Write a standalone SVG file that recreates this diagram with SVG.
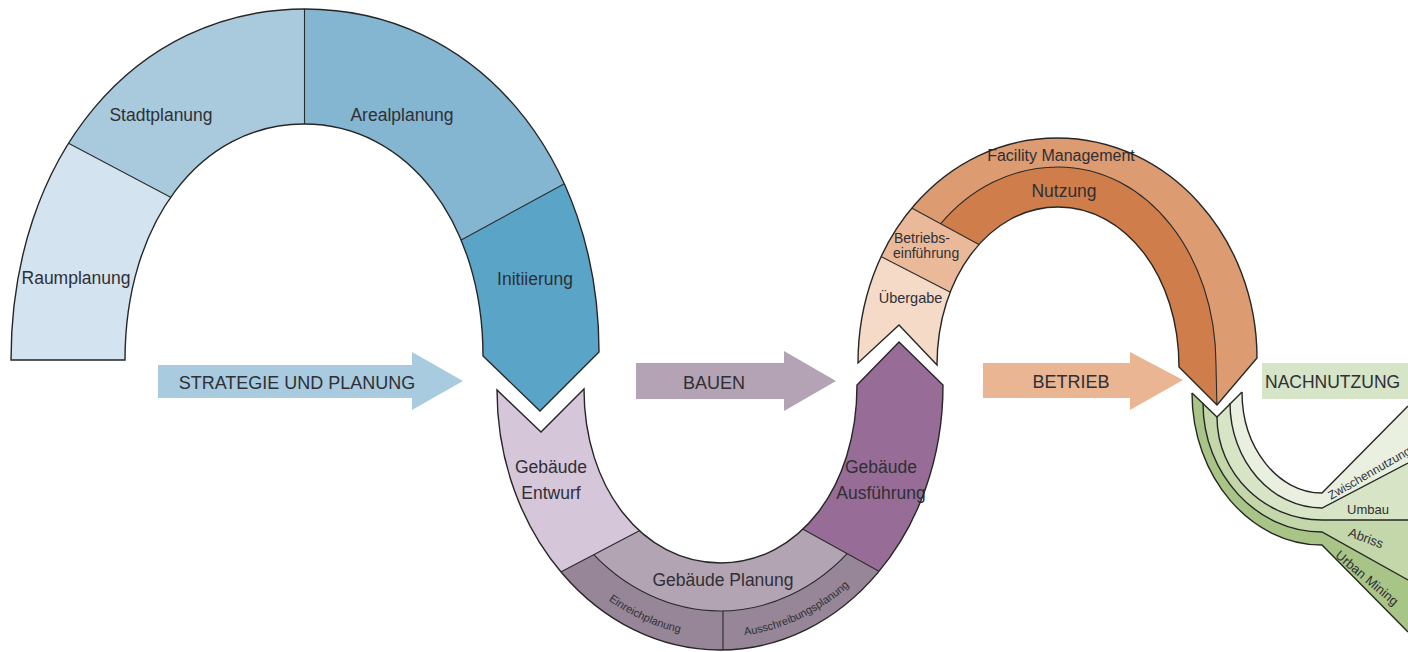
<svg xmlns="http://www.w3.org/2000/svg" width="1408" height="652" viewBox="0 0 1408 652">
<defs>
<style>
.lbl{font-family:"Liberation Sans",Arial,sans-serif;fill:#2f2f35;font-size:17.5px}
.sm{font-size:14px}
.xs{font-size:11px}
.gs{font-size:13px}
.arr{font-size:18px}
.edge{fill:none;stroke:#262626;stroke-width:1.4;stroke-linejoin:miter}
.div{fill:none;stroke:#2a2a2a;stroke-width:1.1}
</style>
<path id="bandBlue" d="M11,360 C11,156.4 134.5,9 305,9 C475.5,9 599,156.4 599,352 L540,411 L483,356 C483,223 408,124 304,124 C200,124 125,223 125,360 Z"/>
<path id="bandPurple" d="M497,390 C497,532.7 596.8,650 720,650 C843.2,650 943,532.7 943,385 L899,342 L857,385 C857,487.8 798.3,563 720.5,563 C642.7,563 584,487.8 584,389 L541,432 Z"/>
<path id="bandOrange" d="M858,363 C858,237.9 945.6,138 1057,138 C1169,138 1257,237.9 1257,358 L1217,405 L1179,367 C1179,276.5 1125.8,207 1058,207 C990.2,207 937,276.5 937,365 L899,325 Z"/>
<path id="arcPurple" d="M507,388 A213 249 0 0 0 933,388"/>
<path id="midOrange" d="M892,365 C892,254.1 965,167 1058,167 C1146.5,167 1216,254.1 1216,365 L1217,410"/>
<clipPath id="cBlue"><use href="#bandBlue"/></clipPath>
<clipPath id="cPurple"><use href="#bandPurple"/></clipPath>
<clipPath id="cOrange"><use href="#bandOrange"/></clipPath>
<clipPath id="cBetween"><polygon points="676,511.5 771,511.5 919,593.5 919,660 520,660 520,593.5"/></clipPath>
<clipPath id="cRightBN"><polygon points="830,163.6 1013,263 1013,430 1300,430 1300,100 830,100"/></clipPath>
</defs>
<rect width="1408" height="652" fill="#ffffff"/>

<!-- Strategie und Planung -->
<g id="raumplanung">
<polygon clip-path="url(#cBlue)" fill="#d3e3f0" points="0,107 240,234 240,380 0,380"/>
<text class="lbl" x="76" y="284" text-anchor="middle">Raumplanung</text>
</g>
<g id="stadtplanung">
<polygon clip-path="url(#cBlue)" fill="#a9cadd" points="0,107 240,234 304.5,234 304.5,0 0,0"/>
<text class="lbl" x="161" y="121" text-anchor="middle">Stadtplanung</text>
</g>
<g id="arealplanung">
<polygon clip-path="url(#cBlue)" fill="#84b5d1" points="304.5,0 620,0 620,153.4 380,284.3 304.5,284.3"/>
<text class="lbl" x="402" y="121" text-anchor="middle">Arealplanung</text>
</g>
<g id="initiierung">
<polygon clip-path="url(#cBlue)" fill="#5aa5c7" points="380,284.3 620,153.4 620,430 380,430"/>
<text class="lbl" x="535" y="285" text-anchor="middle">Initiierung</text>
</g>

<!-- Bauen -->
<g id="gebaeude-entwurf">
<polygon clip-path="url(#cPurple)" fill="#d5c6da" points="470,370 676,370 676,511.5 520,593.5 470,593.5"/>
<text class="lbl" x="551" y="473" text-anchor="middle">Gebäude</text>
<text class="lbl" x="551" y="499" text-anchor="middle">Entwurf</text>
</g>
<g id="gebaeude-ausfuehrung">
<polygon clip-path="url(#cPurple)" fill="#976d97" points="771,330 960,330 960,593.5 919,593.5 771,511.5"/>
<text class="lbl" x="881" y="473" text-anchor="middle">Gebäude</text>
<text class="lbl" x="881" y="499" text-anchor="middle">Ausführung</text>
</g>
<g id="einreichplanung">
<polygon clip-path="url(#cPurple)" fill="#978697" points="676,511.5 723,511.5 723,660 520,660 520,593.5"/>
<text class="lbl xs"><textPath href="#arcPurple" startOffset="39%" text-anchor="middle">Einreichplanung</textPath></text>
</g>
<g id="ausschreibungsplanung">
<polygon clip-path="url(#cPurple)" fill="#978697" points="723,511.5 771,511.5 919,593.5 919,660 723,660"/>
<text class="lbl xs"><textPath href="#arcPurple" startOffset="61.5%" text-anchor="middle">Ausschreibungsplanung</textPath></text>
</g>
<g id="gebaeude-planung">
<g clip-path="url(#cPurple)"><ellipse clip-path="url(#cBetween)" cx="720" cy="388" rx="190" ry="223" fill="#b3a4b4"/></g>
<text class="lbl" x="723" y="586" text-anchor="middle">Gebäude Planung</text>
</g>

<!-- Betrieb -->
<g id="uebergabe">
<polygon clip-path="url(#cOrange)" fill="#f4dac7" points="830,230.3 985,310 985,420 830,420"/>
<text class="lbl" x="910.5" y="303" text-anchor="middle" style="font-size:14.5px">Übergabe</text>
</g>
<g id="betriebseinfuehrung">
<polygon clip-path="url(#cOrange)" fill="#eab999" points="830,163.6 1013,263 1013,324.4 830,230.3"/>
<text class="lbl sm" x="894" y="243">Betriebs-</text>
<text class="lbl sm" x="893" y="258">einführung</text>
</g>
<g id="facility-management">
<polygon clip-path="url(#cOrange)" fill="#dc9b70" points="830,163.6 1013,263 1013,430 1300,430 1300,100 830,100"/>
<text class="lbl" x="1061" y="161" text-anchor="middle" style="font-size:16px">Facility Management</text>
</g>
<g id="nutzung">
<g clip-path="url(#cOrange)"><path clip-path="url(#cRightBN)" fill="#cf7e4b" d="M892,365 C892,254.1 965,167 1058,167 C1146.5,167 1216,254.1 1216,365 L1217,410 L892,410 Z"/></g>
<text class="lbl" x="1064" y="197" text-anchor="middle">Nutzung</text>
</g>

<!-- Nachnutzung -->
<g id="zwischennutzung">
<path fill="#e9f0e0" d="M1242,392 C1242,447.6 1278,493 1322,493 L1408,406 L1408,463 L1322,508 C1271.4,508 1230,460.8 1230,403 Z"/>
<text class="lbl" transform="translate(1331,500) rotate(-30)" style="font-size:12px">Zwischennutzung</text>
</g>
<g id="umbau">
<path fill="#d7e5c6" d="M1230,403 C1230,460.8 1271.4,508 1322,508 L1408,463 L1408,520 L1322,520 C1264.3,520 1217,473.7 1217,417 Z"/>
<text class="lbl gs" x="1347" y="514">Umbau</text>
</g>
<g id="abriss">
<path fill="#c3d7aa" d="M1217,417 C1217,473.7 1264.3,520 1322,520 L1408,520 L1408,580 L1322,532 C1256.5,532 1203,474 1203,403 Z"/>
<text class="lbl gs" transform="translate(1366,538) rotate(20)" text-anchor="middle" dy="4.5">Abriss</text>
</g>
<g id="urban-mining">
<path fill="#a8c587" d="M1203,403 C1203,474 1256.5,532 1322,532 L1408,580 L1408,632 L1322,545 C1250.5,545 1192,476.6 1192,393 Z"/>
<text class="lbl gs" transform="translate(1367,578) rotate(40)" text-anchor="middle" dy="4.5">Urban Mining</text>
</g>

<!-- outlines and dividers -->
<g id="outlines">
<g clip-path="url(#cBlue)" class="div">
<line x1="0" y1="107" x2="240" y2="234"/>
<line x1="304.5" y1="0" x2="304.5" y2="200"/>
<line x1="380" y1="284.3" x2="620" y2="153.4"/>
</g>
<use href="#bandBlue" class="edge"/>
<g clip-path="url(#cPurple)" class="div">
<line x1="520" y1="593.5" x2="676" y2="511.5"/>
<line x1="919" y1="593.5" x2="771" y2="511.5"/>
<line x1="723" y1="611" x2="723" y2="660"/>
<ellipse clip-path="url(#cBetween)" cx="720" cy="388" rx="190" ry="223"/>
</g>
<use href="#bandPurple" class="edge"/>
<g clip-path="url(#cOrange)" class="div">
<line x1="830" y1="230.3" x2="985" y2="310"/>
<line x1="830" y1="163.6" x2="1013" y2="263"/>
<g clip-path="url(#cRightBN)"><use href="#midOrange"/></g>
</g>
<use href="#bandOrange" class="edge"/>
<g class="edge">
<path d="M1242,392 C1242,447.6 1278,493 1322,493 L1408,406"/>
<path d="M1230,403 C1230,460.8 1271.4,508 1322,508 L1408,463"/>
<path d="M1217,417 C1217,473.7 1264.3,520 1322,520 L1408,520"/>
<path d="M1203,403 C1203,474 1256.5,532 1322,532 L1408,580"/>
<path d="M1192,393 C1192,476.6 1250.5,545 1322,545 L1408,632"/>
<path d="M1192,393 L1217,417 L1242,392"/>
</g>
</g>

<!-- phase arrows -->
<g id="connectors">
<g id="phase-strategie">
<path fill="#a9cbe0" d="M158,365 H412 V352 L463,381 L412,410 V398 H158 Z"/>
<text class="lbl arr" x="297" y="389" text-anchor="middle">STRATEGIE UND PLANUNG</text>
</g>
<g id="phase-bauen">
<path fill="#b3a3b4" d="M636,363 H784 V351 L836,381 L784,411 V399 H636 Z"/>
<text class="lbl arr" x="714" y="389" text-anchor="middle">BAUEN</text>
</g>
<g id="phase-betrieb">
<path fill="#eab592" d="M983,363 H1130 V352 L1183,380 L1130,410 V398 H983 Z"/>
<text class="lbl arr" x="1071" y="388" text-anchor="middle">BETRIEB</text>
</g>
<g id="phase-nachnutzung">
<rect x="1262" y="363" width="146" height="36" fill="#d6e4c7"/>
<text class="lbl" x="1265" y="388">NACHNUTZUNG</text>
</g>
</g>
</svg>
